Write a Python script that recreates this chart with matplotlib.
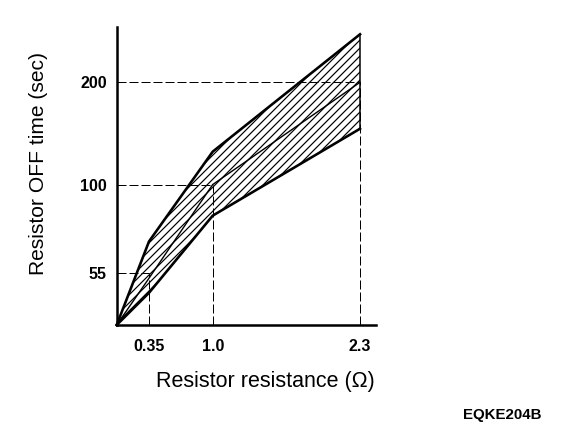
import numpy as np
import matplotlib
matplotlib.use("Agg")
import matplotlib.pyplot as plt

# values
resistance = [0.0, 0.35, 1.0, 2.3]
upper_time = [38.6, 68, 125, 277]
middle_time = [38.6, 53, 100, 200]
lower_time = [38.6, 48, 81, 146]

spec_res = [0.35, 1.0, 2.3]
spec_time = [55, 100, 200]
x_tick_labels = ["0.35", "1.0", "2.3"]
y_tick_labels = ["55", "100", "200"]

plt.rcParams["font.family"] = ["Liberation Sans", "DejaVu Sans"]
plt.rcParams["hatch.linewidth"] = 1.2

# x axis of the drawing is schematic (not linear), piecewise scale
knots_val = [-1.0, 0.0, 0.35, 1.0, 2.3, 4.0]
knots_pos = [-96.0, 0.0, 32.3, 96.0, 243.3, 436.0]


def fwd(v):
    return np.interp(v, knots_val, knots_pos)


def inv(p):
    return np.interp(p, knots_pos, knots_val)


fig = plt.figure(figsize=(8, 434 / 72), dpi=72)
ax = fig.add_axes([0.2026, 0.2512, 0.450, 0.6866])
ax.set_xscale("function", functions=(fwd, inv))
ax.set_yscale("log")

# guide lines
dash = (0, (9, 3))
ax.hlines(spec_time, 0, spec_res, colors="black", linewidth=1.0, linestyles=[dash])
ax.vlines(spec_res, 38.6, spec_time, colors="black", linewidth=1.0, linestyles=[dash])

# hatched band
ax.fill_between(resistance, lower_time, upper_time, facecolor="none",
                edgecolor="black", hatch="///", linewidth=0)
ax.plot(resistance, upper_time, color="black", linewidth=2.6, solid_joinstyle="round", clip_on=False)
ax.plot(resistance, lower_time, color="black", linewidth=2.6, solid_joinstyle="round", clip_on=False)
ax.plot(resistance, middle_time, color="black", linewidth=1.4, clip_on=False)
ax.vlines(resistance[-1], lower_time[-1], upper_time[-1], colors="black", linewidth=1.5)

ax.set_xlim(0, 2.44)
ax.set_ylim(38.6, 291)

ax.set_xticks(spec_res, x_tick_labels, fontweight="bold", fontsize=16)
ax.set_yticks(spec_time, y_tick_labels, fontweight="bold", fontsize=16)
ax.set_yticks([], minor=True)
ax.set_xticks([], minor=True)
ax.tick_params(axis="x", length=0, pad=14)
ax.tick_params(axis="y", length=0, pad=10)

for s in ["top", "right"]:
    ax.spines[s].set_visible(False)
for s in ["left", "bottom"]:
    ax.spines[s].set_linewidth(2.5)

fig.text(0.46, 0.12, "Resistor resistance (\u03a9)", ha="center", va="center", fontsize=21.5)
fig.text(0.066, 0.624, "Resistor OFF time (sec)", ha="center", va="center",
         rotation=90, fontsize=21)
fig.text(0.872, 0.044, "EQKE204B", ha="center", va="center", fontsize=15, fontweight="bold")

fig.savefig("out.png", dpi=72)
